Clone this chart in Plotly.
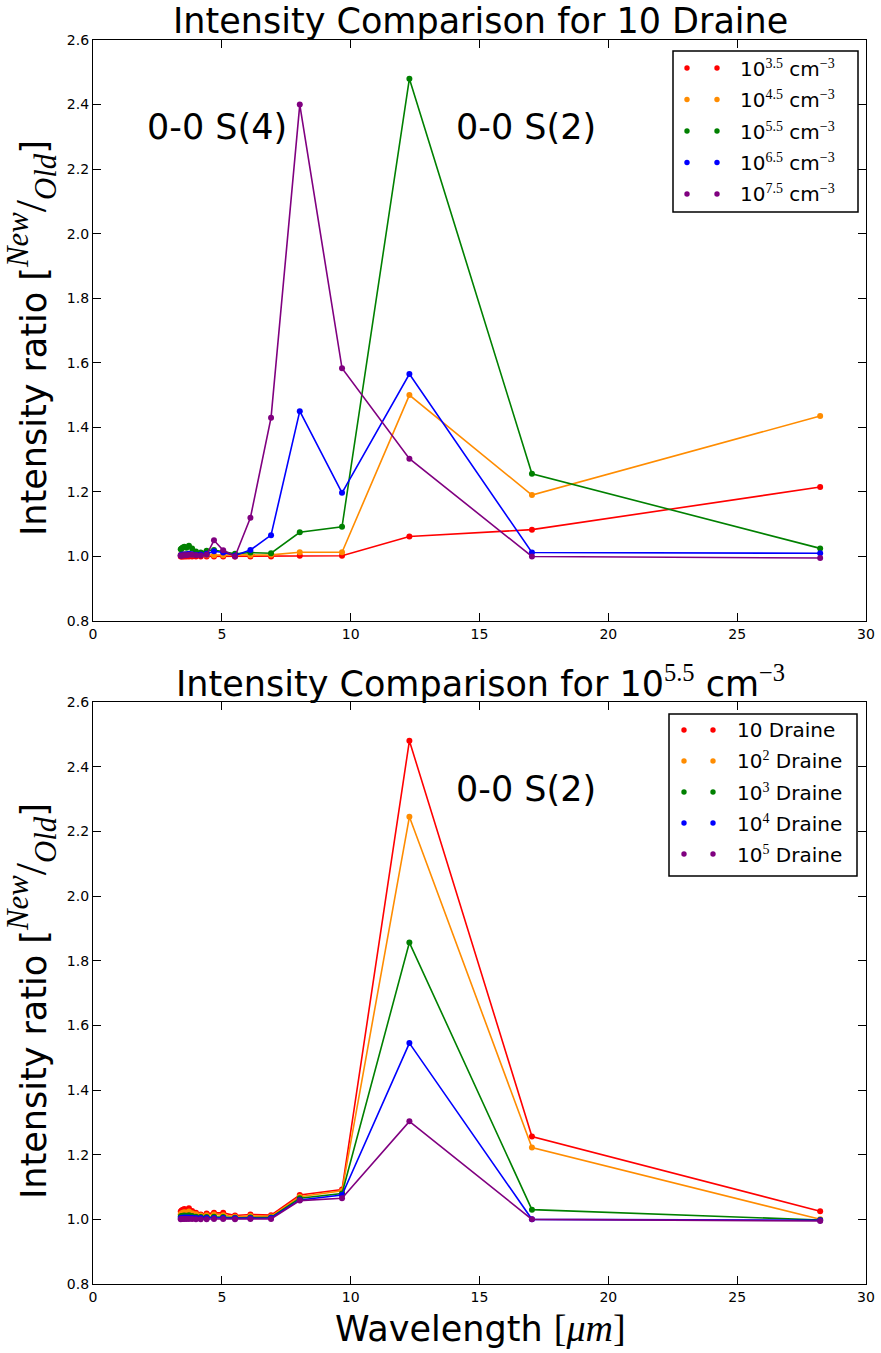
import plotly.graph_objects as go

# H2 0-0 S(19) ... S(0) line wavelengths [micron], ascending
wavelength = [3.405, 3.438, 3.486, 3.547, 3.626, 3.724, 3.846, 3.996, 4.181, 4.410,
              4.695, 5.053, 5.511, 6.109, 6.910, 8.025, 9.665, 12.279, 17.035, 28.221]

# Upper panel: G0 = 10 Draine, varying density
dens_labels = ["10<sup>3.5</sup>", "10<sup>4.5</sup>", "10<sup>5.5</sup>",
               "10<sup>6.5</sup>", "10<sup>7.5</sup>"]
n35 = [1.000, 1.000, 1.000, 1.000, 1.000, 1.000, 1.000, 1.000, 1.000, 1.000,
       1.000, 1.000, 1.000, 1.000, 1.000, 1.002, 1.002, 1.062, 1.083, 1.215]
n45 = [1.005, 1.006, 1.006, 1.007, 1.007, 1.008, 1.006, 1.005, 1.005, 1.004,
       1.004, 1.004, 1.003, 1.004, 1.005, 1.013, 1.013, 1.500, 1.190, 1.435]
n55 = [1.022, 1.025, 1.028, 1.030, 1.027, 1.033, 1.025, 1.015, 1.012, 1.018,
       1.020, 1.015, 1.008, 1.012, 1.010, 1.075, 1.092, 2.480, 1.256, 1.025]
n65 = [1.004, 1.005, 1.006, 1.006, 1.007, 1.008, 1.007, 1.005, 1.006, 1.008,
       1.016, 1.012, 1.003, 1.020, 1.066, 1.450, 1.197, 1.565, 1.012, 1.010]
n75 = [1.002, 1.003, 1.003, 1.004, 1.004, 1.005, 1.005, 1.004, 1.003, 1.005,
       1.050, 1.019, 1.000, 1.120, 1.430, 2.400, 1.583, 1.303, 1.000, 0.995]

# Lower panel: n = 10^5.5 cm^-3, varying G0
g0_labels = ["10", "10<sup>2</sup>", "10<sup>3</sup>", "10<sup>4</sup>", "10<sup>5</sup>"]
g1 = [1.024, 1.027, 1.030, 1.032, 1.029, 1.034, 1.026, 1.020, 1.015, 1.018,
      1.020, 1.020, 1.012, 1.015, 1.013, 1.075, 1.092, 2.480, 1.256, 1.025]
g2 = [1.016, 1.018, 1.020, 1.022, 1.020, 1.024, 1.019, 1.016, 1.012, 1.013,
      1.015, 1.013, 1.008, 1.010, 1.009, 1.070, 1.088, 2.245, 1.222, 1.000]
g3 = [1.009, 1.010, 1.011, 1.012, 1.011, 1.013, 1.010, 1.008, 1.007, 1.007,
      1.008, 1.007, 1.005, 1.006, 1.006, 1.065, 1.080, 1.856, 1.030, 0.998]
g4 = [1.004, 1.005, 1.005, 1.006, 1.006, 1.006, 1.005, 1.004, 1.004, 1.004,
      1.004, 1.004, 1.003, 1.003, 1.004, 1.060, 1.075, 1.545, 1.000, 0.997]
g5 = [1.000, 1.001, 1.001, 1.001, 1.001, 1.001, 1.001, 1.000, 1.000, 1.000,
      1.001, 1.001, 1.000, 1.001, 1.001, 1.058, 1.065, 1.303, 1.000, 0.995]

colors = ["#ff0000", "#ff8c00", "#008000", "#0000ff", "#800080"]
x_ticks = [0, 5, 10, 15, 20, 25, 30]
y_ticks = [0.8, 1.0, 1.2, 1.4, 1.6, 1.8, 2.0, 2.2, 2.4, 2.6]

W, H = 881, 1353
ML, MR, MT, MB = 93, 15, 40, 69
PW, PH = W - ML - MR, H - MT - MB


def px(x):
    return (x - ML) / PW


def py(y):
    return (H - MB - y) / PH


SANS = "DejaVu Sans"
MATH = "Liberation Serif"

fig = go.Figure()

for vals, c in zip([n35, n45, n55, n65, n75], colors):
    fig.add_trace(go.Scatter(x=wavelength, y=vals, mode="lines+markers",
                             line=dict(color=c, width=1.6),
                             marker=dict(color=c, size=6),
                             xaxis="x", yaxis="y", showlegend=False))
for vals, c in zip([g1, g2, g3, g4, g5], colors):
    fig.add_trace(go.Scatter(x=wavelength, y=vals, mode="lines+markers",
                             line=dict(color=c, width=1.6),
                             marker=dict(color=c, size=6),
                             xaxis="x2", yaxis="y2", showlegend=False))

axis_common = dict(showline=True, linecolor="black", linewidth=1.3, mirror="ticks",
                   ticks="inside", ticklen=8, tickwidth=1, tickcolor="black",
                   showgrid=False, zeroline=False, automargin=False,
                   tickfont=dict(family=SANS, size=14, color="black"))

top_dom = [py(621), 1.0]
bot_dom = [0.0, py(702)]

fig.update_layout(
    width=W, height=H, autosize=False,
    margin=dict(l=ML, r=MR, t=MT, b=MB, autoexpand=False),
    paper_bgcolor="white", plot_bgcolor="white",
    xaxis=dict(domain=[0, 1], range=[0, 30], tickvals=x_ticks, anchor="y", **axis_common),
    yaxis=dict(domain=top_dom, range=[0.8, 2.6], tickvals=y_ticks, tickformat=".1f",
               anchor="x", **axis_common),
    xaxis2=dict(domain=[0, 1], range=[0, 30], tickvals=x_ticks, anchor="y2", **axis_common),
    yaxis2=dict(domain=bot_dom, range=[0.8, 2.6], tickvals=y_ticks, tickformat=".1f",
                anchor="x2", **axis_common),
)

ann = []
big = dict(family=SANS, size=35, color="black")
ylab = ("Intensity ratio [<span style='font-family:%s;font-size:44px'><sup><i>New</i></sup>"
        "/<sub><i>Old</i></sub></span>]" % MATH)

ann.append(dict(text="Intensity Comparison for 10 Draine", x=px(480), y=py(21),
                xref="paper", yref="paper", xanchor="center", yanchor="middle",
                showarrow=False, font=big))
ann.append(dict(text="Intensity Comparison for 10<span style='font-family:%s'><sup>5.5</sup></span>"
                     " cm<span style='font-family:%s'><sup>\u22123</sup></span>" % (MATH, MATH),
                x=px(480), y=py(681), xref="paper", yref="paper",
                xanchor="center", yanchor="middle", showarrow=False, font=big))
ann.append(dict(text=ylab, x=px(32), y=py(338), xref="paper", yref="paper",
                xanchor="center", yanchor="middle", textangle=-90,
                showarrow=False, font=big))
ann.append(dict(text=ylab, x=px(32), y=py(1001), xref="paper", yref="paper",
                xanchor="center", yanchor="middle", textangle=-90,
                showarrow=False, font=big))
ann.append(dict(text="Wavelength <span style='font-family:%s;font-size:38px'>[<i>\u03bcm</i>]</span>" % MATH,
                x=px(480), y=py(1328), xref="paper", yref="paper",
                xanchor="center", yanchor="middle", showarrow=False, font=big))

# line labels
ann.append(dict(text="0-0 S(4)", x=2.0, y=2.33, xref="x", yref="y", xanchor="left",
                yanchor="middle", showarrow=False, font=big))
ann.append(dict(text="0-0 S(2)", x=14.0, y=2.33, xref="x", yref="y", xanchor="left",
                yanchor="middle", showarrow=False, font=big))
ann.append(dict(text="0-0 S(2)", x=14.0, y=2.33, xref="x2", yref="y2", xanchor="left",
                yanchor="middle", showarrow=False, font=big))

shapes = []


def legend_box(x0, y0, x1, y1, rows, dot_x, text_x, labels):
    shapes.append(dict(type="rect", xref="paper", yref="paper",
                       x0=px(x0), x1=px(x1), y0=py(y1), y1=py(y0),
                       line=dict(color="black", width=1.5), fillcolor="white", layer="above"))
    for ry, lab, c in zip(rows, labels, colors):
        for dx in dot_x:
            shapes.append(dict(type="circle", xref="paper", yref="paper",
                               xsizemode="pixel", ysizemode="pixel",
                               xanchor=px(dx), yanchor=py(ry),
                               x0=-2.7, x1=2.7, y0=-2.7, y1=2.7,
                               line=dict(width=0), fillcolor=c, layer="above"))
        ann.append(dict(text=lab, x=px(text_x), y=py(ry), xref="paper", yref="paper",
                        xanchor="left", yanchor="middle", showarrow=False,
                        font=dict(family=SANS, size=20, color="black")))


dens_text = ["%s cm<span style='font-family:%s'><sup>\u22123</sup></span>" %
             (l.replace("<sup>", "<span style='font-family:%s'><sup>" % MATH)
               .replace("</sup>", "</sup></span>"), MATH) for l in dens_labels]
g0_text = ["%s Draine" % l.replace("<sup>", "<span style='font-family:%s'><sup>" % MATH)
           .replace("</sup>", "</sup></span>") for l in g0_labels]

legend_box(673, 51, 858, 212, [68, 99.5, 131, 162.5, 194], [687, 717], 738, dens_text)
legend_box(669, 714, 857, 876, [730, 761, 792, 823, 854], [684, 713], 735, g0_text)

fig.update_layout(annotations=ann, shapes=shapes)

fig.write_html("out.html")
